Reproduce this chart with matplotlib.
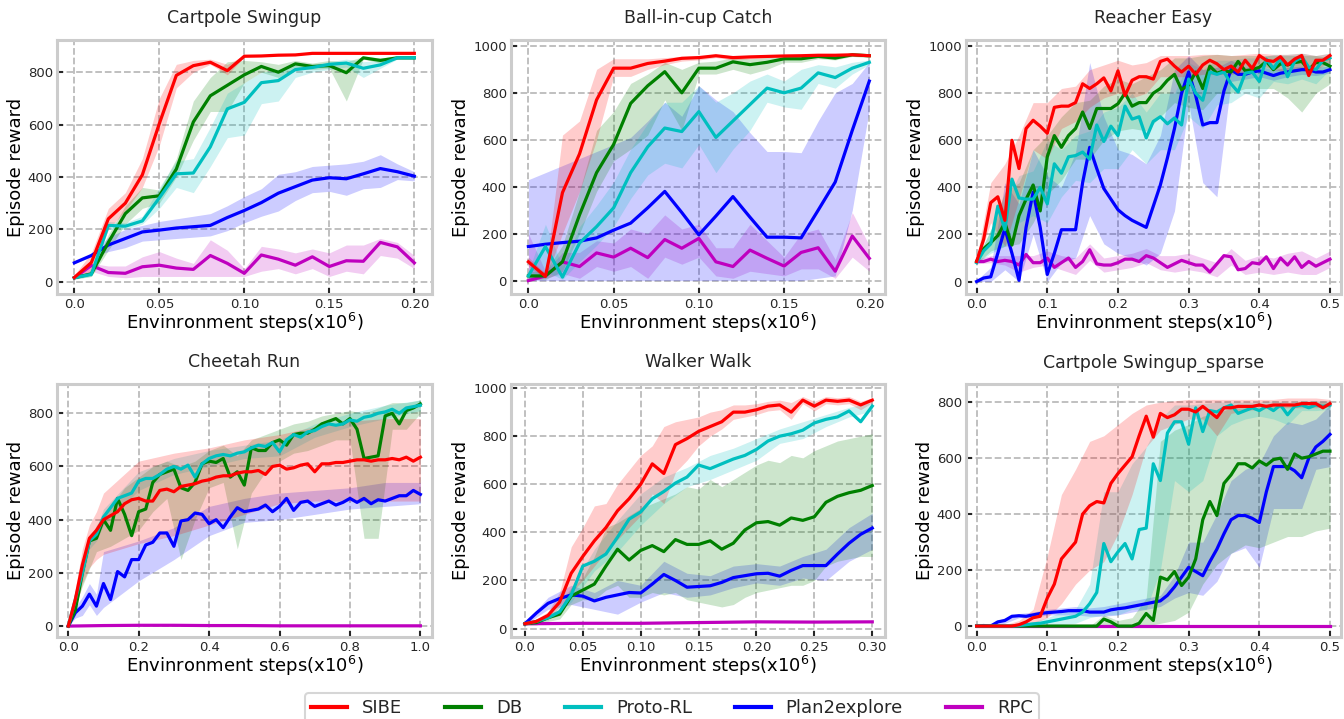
import numpy as np
import matplotlib.pyplot as plt

METHODS = ['SIBE', 'DB', 'Proto-RL', 'Plan2explore', 'RPC']
COLORS = ['r', 'g', 'c', 'b', 'm']
XLABEL = 'Envinronment steps(x10$^6$)'
YLABEL = 'Episode reward'

# ---------------- Cartpole Swingup ----------------
cs_x = np.linspace(0, 0.20, 21)
cs_sibe = [16, 73, 240, 300, 408, 604, 788, 825, 838, 806, 861, 862, 865, 866, 872, 872, 872, 872, 872, 872, 872]
cs_sibe_lo = [10, 40, 200, 270, 360, 520, 740, 800, 830, 790, 858, 860, 862, 865, 870, 870, 870, 870, 870, 870, 870]
cs_sibe_hi = [25, 110, 280, 340, 470, 700, 830, 845, 850, 830, 865, 866, 868, 870, 875, 875, 875, 875, 875, 875, 875]
cs_db = [15, 30, 150, 260, 320, 328, 430, 610, 710, 750, 790, 822, 800, 832, 822, 825, 798, 855, 845, 855, 855]
cs_db_lo = [10, 20, 120, 220, 280, 300, 400, 540, 650, 650, 760, 800, 780, 815, 810, 815, 690, 850, 835, 850, 850]
cs_db_hi = [20, 40, 180, 290, 360, 350, 470, 690, 780, 840, 845, 840, 830, 845, 835, 845, 840, 860, 855, 860, 860]
cs_proto = [15, 28, 215, 212, 232, 320, 412, 415, 515, 660, 685, 760, 768, 810, 818, 830, 835, 815, 828, 855, 855]
cs_proto_lo = [10, 20, 200, 200, 220, 280, 360, 340, 440, 550, 560, 680, 690, 780, 800, 810, 820, 780, 815, 850, 850]
cs_proto_hi = [20, 35, 230, 225, 250, 360, 460, 470, 590, 720, 760, 800, 810, 830, 830, 840, 850, 840, 845, 860, 860]
cs_p2e = [72, 100, 140, 165, 190, 197, 205, 210, 215, 245, 272, 302, 338, 363, 388, 397, 393, 412, 432, 420, 403]
cs_p2e_lo = [70, 95, 115, 130, 155, 160, 165, 170, 175, 195, 225, 250, 270, 310, 340, 345, 330, 355, 360, 390, 385]
cs_p2e_hi = [75, 105, 170, 200, 215, 230, 240, 250, 260, 290, 325, 355, 410, 420, 440, 445, 450, 460, 485, 450, 420]
cs_rpc = [15, 62, 35, 32, 57, 63, 52, 47, 100, 70, 32, 102, 86, 63, 95, 58, 80, 78, 150, 133, 72]
cs_rpc_lo = [10, 40, 20, 15, 20, 20, 20, 20, 20, 20, 20, 40, 50, 30, 50, 20, 40, 30, 100, 90, 50]
cs_rpc_hi = [20, 70, 60, 60, 95, 115, 90, 70, 160, 120, 50, 135, 125, 110, 125, 110, 140, 140, 165, 150, 100]

# ---------------- Ball-in-cup Catch ----------------
bc_x = np.linspace(0, 0.20, 21)
bc_sibe = [80, 18, 375, 540, 770, 905, 905, 925, 935, 947, 950, 958, 950, 953, 955, 957, 958, 960, 960, 962, 958]
bc_sibe_lo = [60, 10, 200, 380, 600, 870, 870, 900, 920, 935, 940, 950, 940, 945, 950, 950, 955, 955, 955, 958, 955]
bc_sibe_hi = [100, 30, 620, 680, 900, 945, 945, 945, 950, 955, 958, 962, 958, 960, 962, 962, 962, 965, 965, 968, 962]
bc_db = [20, 20, 80, 280, 460, 580, 755, 830, 890, 800, 905, 905, 932, 920, 930, 945, 945, 955, 948, 962, 958]
bc_db_lo = [5, 5, 40, 200, 380, 510, 560, 620, 770, 640, 880, 880, 900, 880, 900, 930, 930, 945, 940, 955, 950]
bc_db_hi = [40, 40, 150, 380, 640, 720, 840, 880, 930, 900, 930, 935, 950, 945, 950, 955, 955, 965, 960, 968, 965]
bc_proto = [20, 145, 15, 160, 230, 310, 460, 570, 650, 635, 720, 610, 680, 750, 820, 800, 820, 885, 865, 905, 930]
bc_proto_lo = [5, 40, 5, 80, 150, 230, 350, 450, 500, 480, 580, 460, 560, 640, 760, 740, 730, 840, 820, 880, 920]
bc_proto_hi = [40, 240, 60, 230, 320, 420, 560, 670, 760, 760, 830, 760, 800, 850, 880, 850, 900, 920, 910, 930, 940]
bc_p2e = [145, 155, 162, 168, 182, 215, 245, 310, 380, 290, 195, 275, 358, 270, 185, 185, 182, 300, 420, 640, 850]
bc_p2e_lo = [0, 0, 0, 0, 0, 0, 0, 0, 0, 0, 0, 0, 0, 0, 0, 0, 0, 10, 20, 300, 730]
bc_p2e_hi = [430, 460, 490, 520, 550, 580, 610, 680, 760, 700, 830, 770, 720, 630, 550, 550, 545, 680, 800, 840, 930]
bc_rpc = [0, 20, 80, 60, 118, 100, 138, 98, 175, 138, 180, 80, 60, 130, 95, 62, 120, 140, 40, 190, 95]
bc_rpc_lo = [0, 10, 30, 10, 60, 40, 60, 10, 100, 70, 100, 20, 10, 40, 30, 20, 50, 50, 10, 100, 40]
bc_rpc_hi = [200, 40, 120, 120, 170, 160, 220, 200, 280, 220, 240, 140, 140, 240, 170, 100, 200, 220, 90, 290, 150]

# ---------------- Reacher Easy ----------------
re_x = np.linspace(0, 0.5, 51)
re_sibe = [85, 180, 335, 360, 260, 600, 480, 650, 685, 660, 630, 740, 745, 745, 760, 840, 820, 840, 865, 810,
           895, 790, 855, 870, 870, 860, 935, 945, 915, 890, 915, 880, 920, 940, 925, 900, 915, 890, 940, 905,
           960, 940, 935, 955, 920, 945, 960, 875, 940, 940, 960]
re_db = [85, 140, 165, 195, 250, 155, 280, 350, 410, 300, 530, 620, 570, 620, 650, 720, 650, 735, 735, 735,
         755, 800, 745, 760, 760, 800, 820, 855, 880, 815, 835, 890, 820, 915, 885, 895, 890, 935, 895, 900,
         910, 935, 900, 925, 920, 930, 935, 900, 930, 930, 915]
re_proto = [80, 130, 160, 320, 220, 435, 355, 350, 350, 400, 330, 500, 460, 530, 535, 550, 520, 665, 595, 660,
            620, 745, 690, 700, 610, 680, 700, 670, 695, 665, 860, 800, 770, 890, 880, 890, 840, 805, 885, 890,
            850, 945, 905, 950, 870, 935, 955, 910, 900, 940, 950]
re_p2e = [0, 15, 20, 120, 225, 120, 5, 230, 380, 230, 30, 120, 220, 220, 220, 420, 570, 480, 395, 350,
          305, 280, 260, 245, 230, 320, 410, 525, 650, 800, 890, 790, 665, 675, 675, 810, 900, 880, 880, 890,
          895, 885, 875, 885, 890, 895, 900, 900, 890, 890, 900]
re_rpc = [85, 85, 95, 85, 90, 85, 70, 115, 80, 80, 100, 60, 80, 100, 60, 85, 135, 75, 70, 70,
          80, 95, 95, 85, 110, 100, 80, 60, 75, 90, 80, 70, 70, 40, 75, 110, 105, 50, 55, 80,
          75, 105, 55, 100, 70, 105, 60, 85, 65, 80, 95]
re_band_x = np.linspace(0, 0.5, 26)
re_sibe_lo = [75, 250, 150, 350, 560, 520, 650, 680, 740, 780, 800, 780, 800, 870, 870, 870, 880, 880, 880, 890, 920, 900, 890, 900, 900, 930]
re_sibe_hi = [95, 420, 500, 620, 760, 760, 820, 830, 900, 920, 940, 920, 930, 960, 960, 960, 965, 965, 960, 965, 970, 965, 965, 970, 960, 970]
re_db_lo = [75, 130, 150, 160, 250, 370, 430, 520, 520, 600, 640, 650, 640, 700, 760, 740, 730, 800, 800, 820, 820, 820, 780, 720, 800, 840]
re_db_hi = [95, 220, 380, 420, 560, 620, 700, 760, 770, 830, 860, 840, 870, 900, 950, 950, 960, 965, 960, 960, 960, 960, 960, 960, 960, 950]
re_proto_lo = [75, 120, 150, 250, 280, 250, 360, 430, 420, 480, 480, 560, 500, 560, 560, 700, 650, 750, 760, 800, 780, 850, 840, 860, 840, 900]
re_proto_hi = [90, 220, 330, 450, 470, 600, 560, 620, 640, 720, 740, 800, 720, 800, 800, 930, 900, 940, 940, 950, 950, 965, 965, 970, 960, 970]
re_p2e_lo = [0, 0, 50, 0, 200, 0, 80, 100, 280, 160, 120, 100, 70, 120, 300, 760, 420, 360, 850, 860, 870, 855, 870, 880, 875, 885]
re_p2e_hi = [5, 60, 420, 330, 560, 450, 400, 550, 930, 700, 560, 540, 500, 620, 900, 960, 900, 910, 940, 910, 915, 900, 910, 915, 910, 915]
re_rpc_lo = [75, 80, 70, 40, 60, 70, 50, 30, 90, 40, 50, 60, 80, 50, 40, 50, 40, 20, 70, 30, 40, 30, 40, 30, 30, 60]
re_rpc_hi = [95, 110, 110, 110, 110, 130, 110, 100, 160, 100, 110, 120, 140, 110, 110, 120, 100, 80, 140, 90, 110, 100, 120, 130, 100, 130]

# ---------------- Cheetah Run ----------------
ch_x = np.linspace(0, 1.0, 51)
ch_sibe = [0, 100, 230, 330, 360, 400, 415, 430, 460, 475, 480, 470, 470, 510, 515, 505, 525, 530, 535, 545,
           550, 560, 565, 565, 575, 580, 580, 585, 570, 600, 605, 590, 595, 605, 610, 580, 610, 610, 615, 615,
           620, 625, 625, 620, 625, 625, 630, 625, 635, 620, 635]
ch_db = [0, 60, 200, 320, 330, 400, 360, 480, 420, 340, 430, 440, 540, 570, 580, 590, 520, 510, 540, 610,
         620, 615, 630, 560, 580, 530, 670, 660, 660, 690, 700, 680, 720, 725, 725, 740, 760, 770, 780, 760,
         780, 740, 630, 635, 640, 790, 800, 760, 810, 820, 835]
ch_proto = [0, 100, 200, 320, 345, 410, 445, 480, 490, 500, 545, 555, 555, 570, 590, 600, 590, 605, 560, 610,
            630, 640, 645, 640, 650, 655, 670, 680, 675, 690, 655, 700, 720, 710, 730, 735, 750, 760, 755, 760,
            775, 770, 785, 790, 800, 805, 815, 800, 820, 825, 830]
ch_p2e = [0, 50, 75, 120, 75, 160, 100, 205, 185, 250, 250, 305, 315, 350, 350, 300, 395, 400, 425, 420,
          385, 400, 370, 410, 445, 430, 435, 440, 455, 430, 450, 480, 435, 465, 470, 450, 460, 470, 455, 465,
          480, 465, 480, 460, 475, 470, 480, 490, 490, 510, 495]
ch_rpc_x = np.linspace(0, 1.0, 11)
ch_rpc = [0, 2, 3, 3, 2, 2, 1, 1, 1, 1, 1]
ch_band_x = [0, 0.02, 0.04, 0.06, 0.08, 0.1, 0.2, 0.3, 0.4, 0.5, 0.6, 0.7, 0.8, 0.9, 1.0]
ch_sibe_lo = [0, 60, 160, 220, 250, 270, 310, 340, 380, 420, 460, 470, 470, 470, 470]
ch_sibe_hi = [0, 140, 290, 380, 430, 500, 620, 650, 670, 700, 720, 750, 770, 780, 780]
ch_proto_lo = [0, 80, 170, 290, 320, 380, 510, 570, 600, 630, 640, 710, 750, 780, 810]
ch_proto_hi = [0, 120, 230, 340, 370, 440, 580, 630, 660, 680, 700, 760, 800, 830, 850]
ch_p2e_lo = [0, 30, 40, 80, 40, 70, 170, 250, 340, 390, 400, 420, 440, 450, 460]
ch_p2e_hi = [0, 70, 110, 160, 120, 280, 320, 370, 450, 480, 500, 510, 520, 540, 540]
ch_db_band_x = np.linspace(0, 1.0, 26)
ch_db_lo = [0, 150, 280, 300, 330, 360, 430, 480, 250, 400, 520, 540, 290, 500, 580, 620, 650, 660, 680, 700, 700, 330, 330, 740, 740, 800]
ch_db_hi = [0, 250, 380, 450, 520, 560, 600, 620, 600, 620, 660, 680, 640, 700, 720, 740, 760, 770, 790, 800, 810, 800, 820, 840, 840, 850]

# ---------------- Walker Walk ----------------
ww_x = np.linspace(0, 0.30, 31)
ww_sibe = [20, 30, 55, 110, 230, 300, 365, 420, 490, 540, 600, 685, 645, 765, 790, 820, 840, 860, 900, 900,
           910, 925, 930, 900, 950, 925, 950, 945, 950, 930, 950]
ww_sibe_lo = [15, 20, 40, 90, 150, 200, 260, 320, 370, 420, 470, 560, 520, 650, 700, 760, 800, 830, 870, 880,
              890, 905, 910, 870, 935, 905, 935, 930, 935, 910, 940]
ww_sibe_hi = [25, 40, 70, 150, 340, 420, 510, 520, 600, 660, 720, 760, 840, 860, 870, 880, 900, 910, 930, 930,
              935, 945, 950, 940, 965, 945, 965, 960, 965, 945, 960]
ww_db = [20, 25, 45, 60, 135, 160, 185, 260, 330, 285, 325, 345, 320, 370, 350, 350, 365, 330, 355, 410,
         440, 445, 430, 460, 450, 465, 525, 550, 565, 575, 595]
ww_db_lo = [15, 15, 30, 40, 100, 120, 120, 160, 180, 130, 130, 150, 140, 150, 120, 110, 100, 90, 100, 130,
            150, 160, 170, 180, 180, 200, 260, 280, 290, 300, 300]
ww_db_hi = [25, 35, 60, 80, 170, 210, 300, 420, 440, 470, 500, 520, 540, 560, 590, 580, 620, 590, 620, 650,
            680, 700, 690, 720, 710, 740, 760, 780, 790, 800, 810]
ww_proto = [20, 30, 45, 70, 140, 260, 280, 310, 380, 455, 485, 540, 570, 605, 630, 680, 665, 685, 705, 720,
            745, 780, 800, 810, 825, 855, 870, 880, 905, 860, 925]
ww_p2e = [20, 65, 105, 125, 140, 135, 115, 130, 140, 150, 148, 185, 225, 200, 172, 175, 178, 192, 212, 220,
          228, 230, 218, 242, 262, 262, 262, 310, 355, 392, 418]
ww_band_x = np.linspace(0, 0.30, 16)
ww_proto_lo = [15, 35, 110, 240, 320, 430, 520, 590, 620, 660, 700, 770, 790, 840, 880, 905]
ww_proto_hi = [25, 55, 170, 330, 450, 560, 630, 670, 720, 750, 790, 830, 860, 890, 920, 940]
ww_p2e_lo = [15, 80, 100, 80, 60, 110, 150, 130, 140, 170, 190, 180, 210, 200, 280, 330]
ww_p2e_hi = [25, 130, 180, 150, 200, 180, 280, 230, 220, 260, 270, 260, 300, 330, 420, 480]
ww_rpc_x = np.linspace(0, 0.30, 7)
ww_rpc = [20, 22, 22, 25, 28, 27, 28]

# ---------------- Cartpole Swingup_sparse ----------------
sp_x = np.linspace(0, 0.5, 51)
sp_sibe = [0, 0, 0, 0, 0, 0, 5, 15, 30, 35, 100, 150, 240, 270, 300, 400, 430, 445, 440, 510,
           545, 575, 605, 680, 750, 675, 760, 745, 755, 775, 775, 765, 785, 765, 745, 780, 780, 785, 785, 785,
           790, 785, 790, 790, 790, 790, 795, 795, 795, 780, 795]
sp_proto = [0, 0, 0, 0, 0, 0, 2, 5, 8, 10, 15, 20, 25, 30, 35, 50, 80, 120, 295, 230,
            265, 295, 240, 345, 350, 580, 520, 690, 730, 730, 650, 780, 695, 770, 765, 780, 790, 760, 770, 780,
            770, 785, 770, 790, 755, 785, 790, 780, 790, 785, 790]
sp_db = [0, 0, 0, 0, 0, 0, 0, 0, 0, 0, 0, 0, 0, 0, 0, 0, 0, 0, 25, 15,
         0, 0, 0, 10, 45, 20, 175, 165, 195, 145, 175, 240, 380, 445, 395, 510, 540, 580, 580, 565,
         590, 575, 595, 600, 560, 615, 600, 605, 615, 625, 625]
sp_p2e = [0, 2, 0, 15, 20, 35, 37, 35, 40, 45, 48, 50, 52, 55, 55, 55, 50, 50, 50, 58,
          62, 65, 70, 75, 80, 85, 90, 110, 140, 175, 210, 195, 180, 230, 275, 330, 380, 395, 395, 385,
          370, 480, 570, 570, 570, 555, 530, 600, 640, 660, 685]
sp_rpc_x = np.linspace(0, 0.5, 6)
sp_rpc = [0, 0, 0, 0, 0, 0]
sp_band_x = np.linspace(0, 0.5, 26)
sp_sibe_lo = [0, 0, 0, 0, 10, 30, 80, 150, 200, 230, 330, 470, 640, 700, 720, 740, 740, 680, 760, 770, 775, 780, 780, 780, 780, 785]
sp_sibe_hi = [0, 0, 5, 20, 60, 250, 470, 560, 660, 680, 720, 760, 790, 800, 805, 810, 810, 810, 810, 810, 810, 810, 815, 815, 815, 810]
sp_proto_lo = [0, 0, 0, 0, 0, 0, 5, 10, 30, 40, 40, 60, 60, 200, 520, 480, 520, 680, 720, 740, 750, 740, 720, 770, 770, 775]
sp_proto_hi = [0, 0, 0, 5, 15, 30, 50, 60, 150, 480, 480, 580, 640, 740, 790, 790, 795, 800, 800, 800, 800, 805, 800, 805, 805, 805]
sp_db_lo = [0, 0, 0, 0, 0, 0, 0, 0, 0, 0, 0, 0, 0, 10, 20, 50, 150, 220, 260, 290, 280, 300, 320, 320, 340, 350]
sp_db_hi = [0, 0, 0, 0, 0, 0, 0, 0, 0, 40, 20, 30, 100, 660, 700, 720, 750, 760, 780, 780, 780, 790, 790, 795, 800, 800]
sp_p2e_lo = [0, 0, 10, 30, 30, 40, 40, 40, 35, 35, 40, 50, 60, 70, 100, 120, 110, 160, 260, 280, 210, 420, 420, 420, 560, 570]
sp_p2e_hi = [5, 10, 30, 45, 50, 60, 65, 70, 65, 70, 80, 90, 100, 110, 180, 300, 300, 400, 520, 560, 580, 680, 730, 720, 740, 790]


plt.rcParams.update({
    'font.family': 'DejaVu Sans',
    'axes.edgecolor': '#cccccc',
    'axes.linewidth': 2.2,
    'grid.color': '#bbbbbb',
    'grid.linestyle': '--',
    'grid.linewidth': 1.3,
    'xtick.direction': 'in',
    'ytick.direction': 'in',
    'xtick.major.size': 4,
    'ytick.major.size': 4,
    'xtick.major.width': 1.5,
    'ytick.major.width': 1.5,
    'xtick.color': '#262626',
    'ytick.color': '#262626',
    'xtick.labelsize': 9.5,
    'ytick.labelsize': 9.5,
    'text.color': '#262626',
})


def draw_panel(ax, title, lines, bands, xticks, xticklabels, yticks, xlim, ylim):
    # bands: list of (x, lo, hi) or None, same order as METHODS
    order = [4, 3, 1, 2, 0]
    for i in order:
        if bands[i] is not None:
            bx, lo, hi = bands[i]
            ax.fill_between(bx, lo, hi, color=COLORS[i], alpha=0.2, linewidth=0)
    for i in order:
        lx, ly = lines[i]
        ax.plot(lx, ly, color=COLORS[i], linewidth=2.3, label=METHODS[i])
    ax.set_title(title, fontsize=12.5, pad=12)
    ax.set_xticks(xticks)
    ax.set_xticklabels(xticklabels)
    ax.set_yticks(yticks)
    ax.set_xlim(*xlim)
    ax.set_ylim(*ylim)
    ax.grid(True)
    ax.set_axisbelow(True)
    ax.set_xlabel(XLABEL, fontsize=13, labelpad=0)
    ax.set_ylabel(YLABEL, fontsize=13, labelpad=2)
    ax.tick_params(pad=3)


fig = plt.figure(figsize=(13.44, 7.19), dpi=100)
W, H = 1344, 719


def px_axes(left, top, right, bottom):
    return fig.add_axes([left / W, 1 - bottom / H, (right - left) / W, (bottom - top) / H])


ax1 = px_axes(57, 40, 432, 294)
ax2 = px_axes(511, 40, 885, 294)
ax3 = px_axes(966, 40, 1341, 294)
ax4 = px_axes(57, 384, 432, 637)
ax5 = px_axes(511, 384, 885, 637)
ax6 = px_axes(966, 384, 1341, 637)

t02 = [0.0, 0.05, 0.10, 0.15, 0.20]
t02l = ['0.0', '0.05', '0.10', '0.15', '0.20']
t05 = [0.0, 0.1, 0.2, 0.3, 0.4, 0.5]
t05l = ['0.0', '0.1', '0.2', '0.3', '0.4', '0.5']

draw_panel(ax1, 'Cartpole Swingup',
           [(cs_x, cs_sibe), (cs_x, cs_db), (cs_x, cs_proto), (cs_x, cs_p2e), (cs_x, cs_rpc)],
           [(cs_x, cs_sibe_lo, cs_sibe_hi), (cs_x, cs_db_lo, cs_db_hi), (cs_x, cs_proto_lo, cs_proto_hi),
            (cs_x, cs_p2e_lo, cs_p2e_hi), (cs_x, cs_rpc_lo, cs_rpc_hi)],
           t02, t02l, [0, 200, 400, 600, 800], (-0.0102, 0.2104), (-47, 923))

draw_panel(ax2, 'Ball-in-cup Catch',
           [(bc_x, bc_sibe), (bc_x, bc_db), (bc_x, bc_proto), (bc_x, bc_p2e), (bc_x, bc_rpc)],
           [(bc_x, bc_sibe_lo, bc_sibe_hi), (bc_x, bc_db_lo, bc_db_hi), (bc_x, bc_proto_lo, bc_proto_hi),
            (bc_x, bc_p2e_lo, bc_p2e_hi), (bc_x, bc_rpc_lo, bc_rpc_hi)],
           t02, t02l, [0, 200, 400, 600, 800, 1000], (-0.0102, 0.2092), (-57, 1025))

draw_panel(ax3, 'Reacher Easy',
           [(re_x, re_sibe), (re_x, re_db), (re_x, re_proto), (re_x, re_p2e), (re_x, re_rpc)],
           [(re_band_x, re_sibe_lo, re_sibe_hi), (re_band_x, re_db_lo, re_db_hi),
            (re_band_x, re_proto_lo, re_proto_hi), (re_band_x, re_p2e_lo, re_p2e_hi),
            (re_band_x, re_rpc_lo, re_rpc_hi)],
           t05, t05l, [0, 200, 400, 600, 800, 1000], (-0.015, 0.5156), (-53, 1026))

draw_panel(ax4, 'Cheetah Run',
           [(ch_x, ch_sibe), (ch_x, ch_db), (ch_x, ch_proto), (ch_x, ch_p2e), (ch_rpc_x, ch_rpc)],
           [(ch_band_x, ch_sibe_lo, ch_sibe_hi), (ch_db_band_x, ch_db_lo, ch_db_hi),
            (ch_band_x, ch_proto_lo, ch_proto_hi), (ch_band_x, ch_p2e_lo, ch_p2e_hi), None],
           [0.0, 0.2, 0.4, 0.6, 0.8, 1.0], ['0.0', '0.2', '0.4', '0.6', '0.8', '1.0'],
           [0, 200, 400, 600, 800], (-0.032, 1.033), (-41, 910))

draw_panel(ax5, 'Walker Walk',
           [(ww_x, ww_sibe), (ww_x, ww_db), (ww_x, ww_proto), (ww_x, ww_p2e), (ww_rpc_x, ww_rpc)],
           [(ww_x, ww_sibe_lo, ww_sibe_hi), (ww_x, ww_db_lo, ww_db_hi), (ww_band_x, ww_proto_lo, ww_proto_hi),
            (ww_band_x, ww_p2e_lo, ww_p2e_hi), None],
           [0.0, 0.05, 0.10, 0.15, 0.20, 0.25, 0.30], ['0.0', '0.05', '0.10', '0.15', '0.20', '0.25', '0.30'],
           [0, 200, 400, 600, 800, 1000], (-0.012, 0.311), (-35, 1017))

draw_panel(ax6, 'Cartpole Swingup_sparse',
           [(sp_x, sp_sibe), (sp_x, sp_db), (sp_x, sp_proto), (sp_x, sp_p2e), (sp_rpc_x, sp_rpc)],
           [(sp_band_x, sp_sibe_lo, sp_sibe_hi), (sp_band_x, sp_db_lo, sp_db_hi),
            (sp_band_x, sp_proto_lo, sp_proto_hi), (sp_band_x, sp_p2e_lo, sp_p2e_hi), None],
           t05, t05l, [0, 200, 400, 600, 800], (-0.015, 0.5156), (-39, 865))

handles, labels = ax1.get_legend_handles_labels()
lookup = dict(zip(labels, handles))
leg = fig.legend([lookup[m] for m in METHODS], METHODS, loc='upper center',
                 bbox_to_anchor=(0.5, 1 - 693 / H), ncol=5, fontsize=13, frameon=True,
                 handlelength=2.0, columnspacing=2.4, fancybox=True, borderpad=0.35,
                 borderaxespad=0)
leg.get_frame().set_edgecolor('#cccccc')
leg.get_frame().set_linewidth(1.5)
for line in leg.get_lines():
    line.set_linewidth(3)

fig.savefig('out.png', dpi=100)
